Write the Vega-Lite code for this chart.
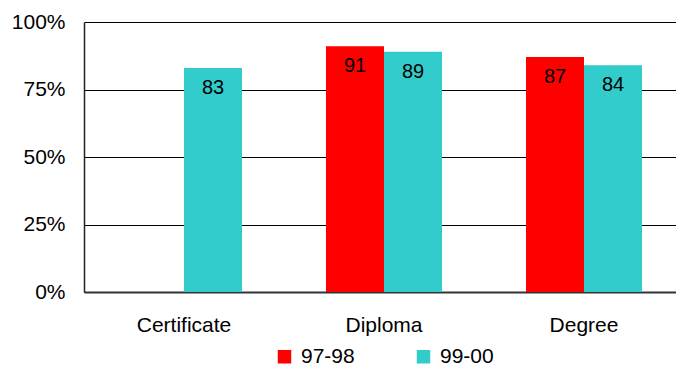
{
  "$schema": "https://vega.github.io/schema/vega-lite/v6.json",
  "autosize": {"type": "none"},
  "width": 600,
  "height": 270,
  "padding": {"left": 84, "top": 22, "right": 0, "bottom": 75},
  "background": "white",
  "config": {
    "view": {"stroke": null},
    "font": "Liberation Sans",
    "axis": {"labelFont": "Liberation Sans", "labelColor": "black"},
    "legend": {"labelFont": "Liberation Sans"}
  },
  "data": {
    "values": [
      {"category": "Certificate", "year": "99-00", "value": 83},
      {"category": "Diploma", "year": "97-98", "value": 91},
      {"category": "Diploma", "year": "99-00", "value": 89},
      {"category": "Degree", "year": "97-98", "value": 87},
      {"category": "Degree", "year": "99-00", "value": 84}
    ]
  },
  "encoding": {
    "x": {
      "field": "category",
      "type": "nominal",
      "sort": ["Certificate", "Diploma", "Degree"],
      "scale": {"paddingInner": 0.42, "paddingOuter": 0.21},
      "axis": {
        "title": null,
        "labelAngle": 0,
        "labelFontSize": 21,
        "labelPadding": 22,
        "ticks": false,
        "domainColor": "#333333",
        "domainWidth": 2,
        "grid": false
      }
    },
    "xOffset": {
      "field": "year",
      "type": "nominal",
      "sort": ["97-98", "99-00"],
      "scale": {"paddingInner": 0, "paddingOuter": 0}
    },
    "y": {
      "field": "value",
      "type": "quantitative",
      "scale": {"domain": [0, 100], "nice": false},
      "axis": {
        "title": null,
        "values": [0, 25, 50, 75, 100],
        "labelExpr": "datum.value + '%'",
        "labelFontSize": 21,
        "labelPadding": 19,
        "ticks": false,
        "domainColor": "#222222",
        "domainWidth": 1.5,
        "grid": true,
        "gridColor": "black",
        "gridWidth": 1,
        "gridOpacity": 1
      }
    }
  },
  "layer": [
    {
      "mark": {"type": "bar", "stroke": null},
      "encoding": {
        "color": {
          "field": "year",
          "type": "nominal",
          "sort": ["97-98", "99-00"],
          "scale": {"domain": ["97-98", "99-00"], "range": ["#FF0000", "#33CCCC"]},
          "legend": {
            "title": null,
            "orient": "none",
            "direction": "horizontal",
            "legendX": 190,
            "legendY": 324,
            "symbolType": "square",
            "symbolSize": 182,
            "symbolStrokeWidth": 0,
            "symbolOpacity": 1,
            "labelFontSize": 21,
            "labelOffset": 6,
            "labelColor": "black",
            "columnPadding": 58
          }
        }
      }
    },
    {
      "mark": {"type": "text", "baseline": "top", "dy": 10, "fontSize": 20, "color": "black"},
      "encoding": {
        "text": {"field": "value", "type": "quantitative"}
      }
    }
  ]
}
